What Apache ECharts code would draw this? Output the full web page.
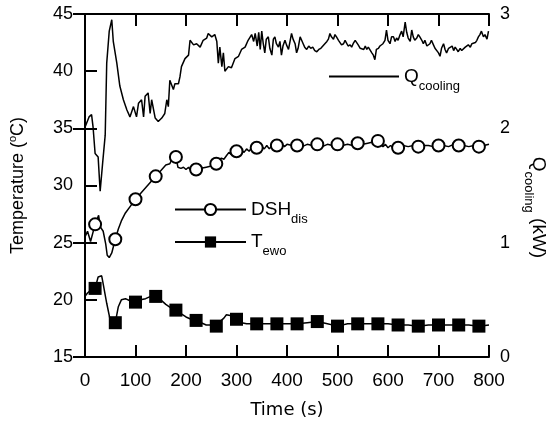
<!DOCTYPE html>
<html><head><meta charset="utf-8">
<script src="https://cdn.jsdelivr.net/npm/echarts@6/dist/echarts.min.js"></script>
<style>html,body{margin:0;padding:0;background:#fff}#c{width:549px;height:423px}</style>
</head><body><div id="c"></div>
<script>
// ---- data ----
const markerTimes = [20,60,100,140,180,220,260,300,340,380,420,460,500,540,580,620,660,700,740,780];

const qTime = [0,3,8,13,16,20,26,30,35,40,43,48,53,56,63,69,76,83,89,96,102,106,112,116,119,125,129,132,139,145,152,158,162,165,168,175,178,185,188,191,198,205,208,215,221,228,234,241,244,251,257,261,264,267,271,274,277,284,290,297,304,310,317,323,
  330,334,337,341,344,347,350,353,356,359,363,366,370,373,376,379,383,386,389,392,396,399,403,406,409,412,416,419,422,426,429,432,435,439,443,447,451,455,459,463,467,471,475,479,482,485,488,492,495,498,502,505,508,512,515,518,521,525,528,531,535,538,541,545,548,552,555,558,561,564,568,571,574,577,581,584,587,590,594,597,600,604,607,611,614,617,620,624,627,630,634,637,640,644,647,650,653,657,660,663,667,670,673,677,680,683,686,690,693,696,700,703,706,710,713,716,720,723,727,730,733,736,739,743,746,749,753,756,759,763,766,769,773,776,779,782,785,789,792,796,799];
const qValue = [2.01,2.01,2.10,2.12,2.01,1.78,1.75,1.45,1.70,1.94,2.57,2.85,2.95,2.76,2.57,2.37,2.25,2.16,2.10,2.19,2.10,2.22,2.25,2.10,2.28,2.31,2.13,2.25,2.09,2.06,2.09,2.13,2.25,2.19,2.42,2.34,2.39,2.39,2.45,2.54,2.61,2.64,2.77,2.73,2.74,2.71,2.77,2.79,2.83,2.80,2.82,2.76,2.57,2.71,2.54,2.66,2.50,2.54,2.53,2.61,2.63,2.69,2.71,2.77,
  2.82,2.76,2.83,2.72,2.84,2.69,2.85,2.74,2.66,2.78,2.80,2.70,2.64,2.78,2.80,2.74,2.71,2.76,2.64,2.72,2.77,2.73,2.69,2.76,2.83,2.78,2.74,2.66,2.70,2.80,2.77,2.74,2.71,2.69,2.72,2.70,2.71,2.68,2.67,2.69,2.70,2.72,2.74,2.76,2.78,2.83,2.80,2.78,2.82,2.80,2.77,2.75,2.73,2.74,2.77,2.76,2.72,2.73,2.71,2.74,2.77,2.76,2.73,2.70,2.71,2.69,2.72,2.69,2.71,2.70,2.66,2.64,2.60,2.69,2.70,2.72,2.71,2.74,2.77,2.86,2.77,2.74,2.80,2.80,2.76,2.79,2.77,2.82,2.85,2.80,2.93,2.84,2.79,2.76,2.86,2.80,2.77,2.79,2.82,2.80,2.77,2.74,2.77,2.72,2.71,2.74,2.77,2.73,2.70,2.71,2.66,2.63,2.70,2.74,2.69,2.66,2.70,2.69,2.72,2.68,2.71,2.69,2.67,2.70,2.68,2.69,2.71,2.70,2.73,2.71,2.74,2.73,2.75,2.77,2.80,2.82,2.85,2.80,2.82,2.78,2.85];

const dshTime = [0,5,11,20,27,30,36,41,44,48,53,60,66,72,80,90,100,110,120,130,140,150,160,168,172,180,184,190,195,200,205,210,220,230,240,250,260,265,270,275,280,285,290,300,305,310,315,320,325,330,335,340,345,350,355,360,365,370,375,380,385,390,395,400,410,420,430,440,450,460,470,480,490,500,510,520,530,540,550,560,570,580,585,590,595,600,605,610,620,630,640,650,660,670,680,690,700,710,720,730,740,750,760,770,780,790,800];
const dshValue = [25.5,26.0,25.1,26.6,27.4,26.4,26.0,24.9,23.9,23.7,24.1,25.3,26.2,26.9,27.6,28.2,28.8,29.3,29.8,30.3,30.8,31.3,31.8,31.9,32.3,32.5,31.6,31.5,31.6,31.4,31.6,31.3,31.4,31.5,31.6,31.7,31.9,32.2,32.4,32.3,32.6,32.9,32.7,33.0,32.8,33.1,32.9,33.2,33.0,33.3,33.1,33.3,33.1,33.4,33.2,33.5,33.2,33.5,33.3,33.5,33.4,33.6,33.4,33.6,33.5,33.5,33.4,33.6,33.5,33.6,33.4,33.6,33.5,33.6,33.5,33.6,33.5,33.7,33.6,33.7,33.8,33.9,33.6,33.4,33.6,33.3,33.5,33.3,33.3,33.5,33.4,33.5,33.4,33.5,33.5,33.4,33.5,33.5,33.4,33.6,33.5,33.5,33.4,33.5,33.4,33.5,33.6];

const tewoTime = [0,5,10,15,20,26,33,36,43,50,55,60,66,72,80,90,100,110,120,130,140,150,155,160,170,180,190,200,210,220,230,240,250,260,270,275,280,290,300,310,320,340,360,380,400,420,440,460,480,500,520,540,560,580,600,620,640,660,680,700,720,740,760,780,800];
const tewoValue = [20.3,20.6,20.8,20.9,21.0,22.0,22.1,21.4,19.7,18.2,17.9,18.0,19.4,20.0,20.1,19.9,19.8,20.0,20.1,20.3,20.3,20.0,19.8,19.6,19.3,19.1,18.8,18.5,18.3,18.2,18.0,17.8,17.8,17.7,18.2,18.4,18.7,18.6,18.3,18.0,17.9,17.9,17.9,17.9,17.9,17.9,18.0,18.1,17.9,17.7,17.9,17.9,17.9,17.9,17.9,17.8,17.8,17.7,17.8,17.8,17.8,17.8,17.8,17.7,17.8];

const xMin = 0, xMax = 800, xInterval = 100;
const tMin = 15, tMax = 45, tInterval = 5;
const qMin = 0, qMax = 3, qInterval = 1;

// ---- chart ----
const FONT = '"Liberation Sans", Arial, sans-serif';
const chart = echarts.init(document.getElementById('c'), null, {renderer: 'canvas'});
const tick = {show: true, inside: true, length: 12, lineStyle: {color: '#000', width: 2}};
const axLine = {show: true, lineStyle: {color: '#000', width: 2}};
const legendRich = {
  m: {fontSize: 19, lineHeight: 32, fontFamily: FONT, color: '#000'},
  s: {fontSize: 13, lineHeight: 8, verticalAlign: 'bottom', fontFamily: FONT, color: '#000'}
};
const legendText = {'Q_cooling': '{m|Q}{s|cooling}', 'DSH_dis': '{m|DSH}{s|dis}', 'T_ewo': '{m|T}{s|ewo}'};

function markItems(times, values, sym) {
  return times.map((t, i) => ({value: [t, values[i]], symbol: markerTimes.includes(t) ? sym : 'none'}));
}

chart.setOption({
  animation: false,
  backgroundColor: '#fff',
  grid: {left: 85, right: 60, top: 14, bottom: 66, containLabel: false, outerBoundsMode: 'none'},
  legend: [
    {data: ['Q_cooling'], left: 328, top: 67, padding: 0, itemWidth: 70, itemHeight: 14, selectedMode: false,
     itemStyle: {opacity: 0}, lineStyle: {opacity: 1},
     formatter: n => legendText[n], textStyle: {rich: legendRich}},
    {data: ['DSH_dis', 'T_ewo'], orient: 'vertical', left: 174, top: 200, padding: 0, itemGap: 7, itemWidth: 71, itemHeight: 14, selectedMode: false,
     formatter: n => legendText[n], textStyle: {rich: legendRich}}
  ],
  xAxis: [
    {type: 'value', position: 'bottom', min: xMin, max: xMax, interval: xInterval,
     axisLine: axLine, axisTick: tick, splitLine: {show: false},
     axisLabel: {fontSize: 19, fontFamily: FONT, color: '#000', margin: 14},
     name: 'Time (s)', nameLocation: 'middle', nameGap: 44,
     nameTextStyle: {fontSize: 18, fontFamily: 'DejaVu Sans', color: '#000'}},
    {type: 'value', position: 'top', min: xMin, max: xMax, interval: xInterval,
     axisLine: axLine, axisTick: tick, splitLine: {show: false}, axisLabel: {show: false}}
  ],
  yAxis: [
    {type: 'value', position: 'left', min: tMin, max: tMax, interval: tInterval,
     axisLine: axLine, axisTick: tick, splitLine: {show: false},
     axisLabel: {fontSize: 18, fontFamily: FONT, color: '#000', margin: 12},
     name: '{a|Temperature (}{b|o}{a|C)}', nameLocation: 'middle', nameGap: 56,
     nameTextStyle: {rich: {a: {fontSize: 18, lineHeight: 22, fontFamily: FONT, color: '#000'},
                            b: {fontSize: 11, lineHeight: 11, verticalAlign: 'top', fontFamily: FONT, color: '#000'}}}},
    {type: 'value', position: 'right', min: qMin, max: qMax, interval: qInterval,
     axisLine: axLine, axisTick: tick, splitLine: {show: false},
     axisLabel: {fontSize: 18, fontFamily: FONT, color: '#000', margin: 11},
     name: '{m|Q}{s|cooling}{m| (kW)}', nameLocation: 'middle', nameGap: 33, nameRotate: -90,
     nameTextStyle: {padding: [0, 0, 0, 44], rich: legendRich}}
  ],
  series: [
    {name: 'Q_cooling', type: 'line', xAxisIndex: 0, yAxisIndex: 1, symbol: 'none',
     data: qTime.map((t, i) => [t, qValue[i]]),
     lineStyle: {color: '#000', width: 1.5}, itemStyle: {color: '#000'}},
    {name: 'DSH_dis', type: 'line', xAxisIndex: 0, yAxisIndex: 0, symbol: 'emptyCircle', symbolSize: 12,
     showSymbol: true, showAllSymbol: true, data: markItems(dshTime, dshValue, 'emptyCircle'),
     lineStyle: {color: '#000', width: 1.5}, itemStyle: {color: '#000', borderColor: '#000', borderWidth: 1.5}},
    {name: 'T_ewo', type: 'line', xAxisIndex: 0, yAxisIndex: 0, symbol: 'rect', symbolSize: 13,
     showSymbol: true, showAllSymbol: true, data: markItems(tewoTime, tewoValue, 'rect'),
     lineStyle: {color: '#000', width: 1.5}, itemStyle: {color: '#000'}}
  ]
});
</script></body></html>
